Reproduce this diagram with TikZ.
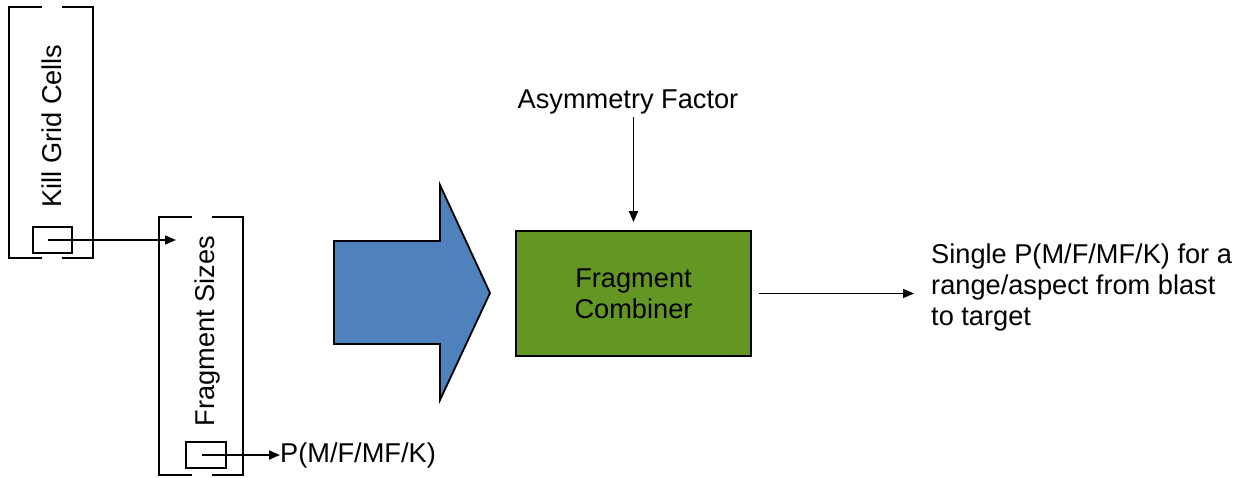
\documentclass[tikz,border=0pt]{standalone}
\usepackage{fontspec}
\setmainfont{Liberation Sans}
\usetikzlibrary{arrows.meta}
\definecolor{bigblue}{HTML}{4F81BD}
\definecolor{combgreen}{HTML}{649624}
\begin{document}
\begin{tikzpicture}[x=1pt,y=-1pt,
  lbl/.style={font=\fontsize{27.2}{31}\selectfont, inner sep=0pt},
  holder/.style={draw=none, minimum width=84pt, inner sep=0pt},
  cellbox/.style={draw, line width=1.6pt, minimum width=39pt, minimum height=26pt, inner sep=0pt},
  conn/.style={line width=1.7pt, -{Triangle[length=11pt,width=9pt]}},
  edge/.style={line width=1.8pt}
]
\useasboundingbox (0,0) rectangle (1243,477);

% bracket-style containers (open in the middle of top and bottom)
\node[holder, minimum height=251pt] (kill) at (51,132.5) {};
\node[holder, minimum height=258pt] (frag) at (201,346) {};

\draw[edge] ([xshift=-9pt]kill.north) -- (kill.north west) -- (kill.south west) -- ([xshift=-9pt]kill.south);
\draw[edge] ([xshift=11pt]kill.north) -- (kill.north east) -- (kill.south east) -- ([xshift=11pt]kill.south);
\draw[edge] ([xshift=-9pt]frag.north) -- (frag.north west) -- (frag.south west) -- ([xshift=-9pt]frag.south);
\draw[edge] ([xshift=11pt]frag.north) -- (frag.north east) -- (frag.south east) -- ([xshift=11pt]frag.south);

\node[lbl, rotate=90] (killtxt) at (52,126) {Kill Grid Cells};
\node[lbl, rotate=90] (fragtxt) at (207,331) {Fragment Sizes};

% output cells
\node[cellbox] (kcell) at (52.5,240) {};
\node[cellbox, minimum width=40pt] (fcell) at (206,455) {};

\coordinate (fragin) at (176,240);
\draw[conn] ([xshift=-5pt]kcell.center) -- (fragin);

\node[lbl, anchor=west] (pout) at (280,455) {P(M/F/MF/K)};
\draw[conn] ([xshift=-4pt]fcell.center) -- (pout.west);

% big block arrow
\draw[line width=1.8pt, fill=bigblue, line join=miter]
  (334,241) -- (440,241) -- (440,185) -- (490,293) -- (440,400) -- (440,344) -- (334,344) -- cycle;

% combiner block
\node[draw, line width=1.8pt, fill=combgreen, minimum width=235pt, minimum height=125pt,
      lbl, align=center] (comb) at (633.5,293.5) {Fragment\\Combiner};

\node[lbl] (asym) at (628,102) {Asymmetry Factor};
\draw[conn, shorten >=8pt] (asym.south -| comb.north) ++(0,3) -- (comb.north);

\node[lbl, anchor=west, align=left] (result) at (931,287)
  {Single P(M/F/MF/K) for a\\range/aspect from blast\\to target};
\draw[conn] ([xshift=7pt]comb.east) -- ([xshift=-17pt]result.west |- comb.east);
\end{tikzpicture}
\end{document}
